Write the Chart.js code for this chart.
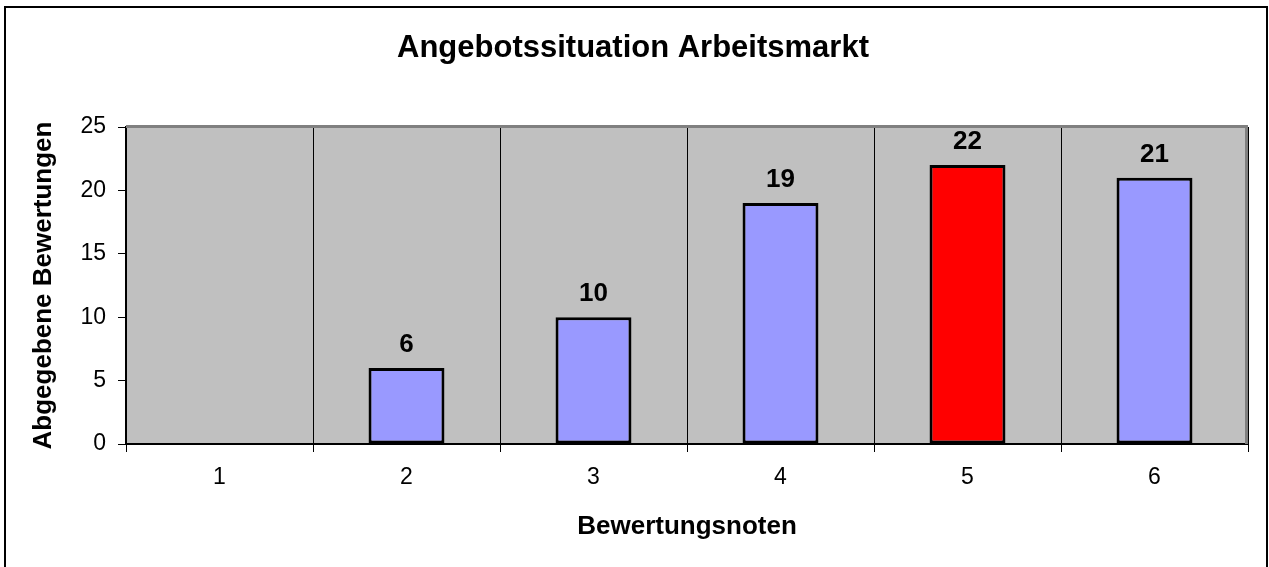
<!DOCTYPE html>
<html>
<head>
<meta charset="utf-8">
<script src="https://cdn.jsdelivr.net/npm/chart.js@4.4.0/dist/chart.umd.min.js"></script>
<style>
  html, body { margin: 0; padding: 0; background: #fff; }
  canvas { display: block; }
</style>
</head>
<body>
<canvas id="chart" width="1269" height="567"></canvas>
<script>
const chartTitle = 'Angebotssituation Arbeitsmarkt';
const xTitle = 'Bewertungsnoten';
const yTitle = 'Abgegebene Bewertungen';
const notes = ['1', '2', '3', '4', '5', '6'];
const votes = [0, 6, 10, 19, 22, 21];
const highlightNote = '5';

const FONT = "'Liberation Sans', Arial, sans-serif";

// grauer Hintergrund + Rahmen oben/rechts
const plotBg = {
  id: 'plotBg',
  beforeDraw(chart) {
    const { ctx, chartArea: a } = chart;
    ctx.save();
    ctx.fillStyle = '#c0c0c0';
    ctx.fillRect(a.left, a.top, a.right - a.left, a.bottom - a.top);
    ctx.restore();
  },
  beforeDatasetsDraw(chart) {
    const { ctx, chartArea: a } = chart;
    ctx.save();
    ctx.strokeStyle = '#808080';
    ctx.lineWidth = 3;
    ctx.beginPath();
    ctx.moveTo(a.left, a.top - 0.5);
    ctx.lineTo(a.right - 1.5, a.top - 0.5);
    ctx.lineTo(a.right - 1.5, a.bottom);
    ctx.stroke();
    ctx.restore();
  }
};

// Werte über den Balken, Titel, Außenrahmen
const labels = {
  id: 'labels',
  afterDatasetsDraw(chart) {
    const { ctx } = chart;
    const meta = chart.getDatasetMeta(0);
    ctx.save();
    ctx.fillStyle = '#000';
    ctx.font = 'bold 26px ' + FONT;
    ctx.textAlign = 'center';
    ctx.textBaseline = 'alphabetic';
    meta.data.forEach((bar, i) => {
      const v = votes[i];
      if (!v) return;
      ctx.fillText(String(v), bar.x, bar.y - 16);
    });
    ctx.restore();
  },
  afterDraw(chart) {
    const { ctx } = chart;
    ctx.save();
    ctx.fillStyle = '#000';
    ctx.font = 'bold 31px ' + FONT;
    ctx.textAlign = 'center';
    ctx.textBaseline = 'middle';
    ctx.fillText(chartTitle, 633, 48);
    ctx.strokeStyle = '#000';
    ctx.lineWidth = 2;
    ctx.beginPath();
    ctx.moveTo(5, 567);
    ctx.lineTo(5, 7);
    ctx.lineTo(1267, 7);
    ctx.lineTo(1267, 567);
    ctx.stroke();
    ctx.restore();
  }
};

new Chart(document.getElementById('chart'), {
  type: 'bar',
  data: {
    labels: notes,
    datasets: [{
      data: votes,
      backgroundColor: notes.map(n => n === highlightNote ? '#ff0000' : '#9999ff'),
      borderColor: '#000',
      borderWidth: ctx => (votes[ctx.dataIndex] ? 3 : 0),
      borderSkipped: false,
      barPercentage: 0.406,
      categoryPercentage: 1
    }]
  },
  options: {
    responsive: false,
    animation: false,
    layout: { padding: { top: 127, left: 0, right: 21, bottom: 0 } },
    plugins: {
      legend: { display: false },
      tooltip: { enabled: false },
      title: { display: false }
    },
    scales: {
      x: {
        afterFit(s) { s.height = 123; },
        grid: {
          offset: true,
          color: c => (c.index === notes.length ? '#808080' : '#000'),
          tickColor: '#000',
          lineWidth: 1,
          tickLength: 8,
          drawOnChartArea: true
        },
        border: { display: true, color: '#000', width: 2 },
        ticks: { color: '#000', font: { family: FONT, size: 23 }, padding: 12 },
        title: {
          display: true,
          text: xTitle,
          color: '#000',
          font: { family: FONT, size: 26, weight: 'bold' },
          padding: { top: 0, bottom: 25 }
        }
      },
      y: {
        min: 0,
        max: 25,
        afterFit(s) { s.width = 126; },
        grid: {
          drawOnChartArea: false,
          drawTicks: true,
          tickLength: 8,
          tickColor: '#000',
          color: '#000'
        },
        border: { display: true, color: '#000', width: 2 },
        ticks: { stepSize: 5, color: '#000', font: { family: FONT, size: 23 }, padding: 12 },
        title: {
          display: true,
          text: yTitle,
          color: '#000',
          font: { family: FONT, size: 26, weight: 'bold' },
          padding: { top: 28, bottom: 0 }
        }
      }
    }
  },
  plugins: [plotBg, labels]
});
</script>
</body>
</html>
